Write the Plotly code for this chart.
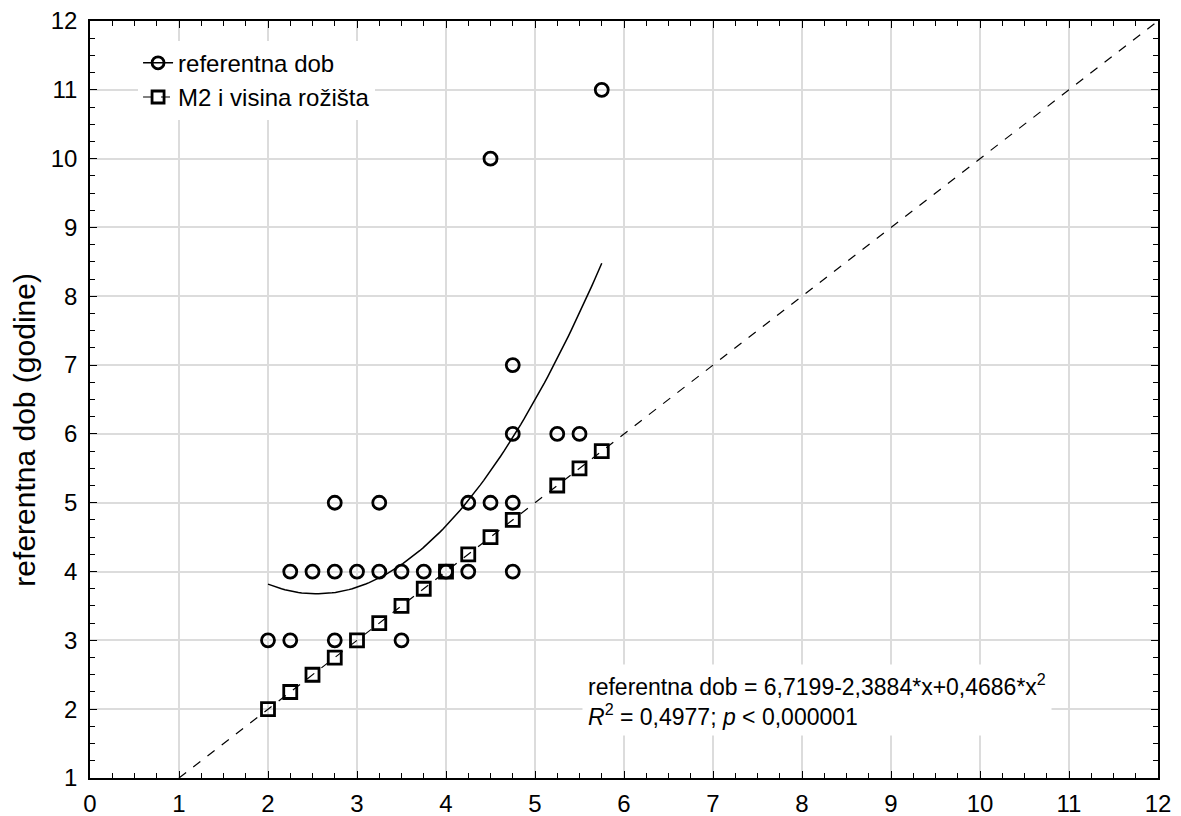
import numpy as np
import plotly.graph_objects as go

# Observed: M2 score (x) vs reference age (y)
circle_x = [2, 2.25, 2.75, 3.5,
            2.25, 2.5, 2.75, 3, 3.25, 3.5, 3.75, 4, 4.25, 4.75,
            2.75, 3.25, 4.25, 4.5, 4.75,
            4.75, 5.25, 5.5,
            4.75, 4.5, 5.75]
circle_y = [3, 3, 3, 3,
            4, 4, 4, 4, 4, 4, 4, 4, 4, 4,
            5, 5, 5, 5, 5,
            6, 6, 6,
            7, 10, 11]

# M2 i visina rožišta (estimated age equals score)
square_x = [2, 2.25, 2.5, 2.75, 3, 3.25, 3.5, 3.75, 4, 4.25, 4.5, 4.75, 5.25, 5.5, 5.75]
square_y = [2, 2.25, 2.5, 2.75, 3, 3.25, 3.5, 3.75, 4, 4.25, 4.5, 4.75, 5.25, 5.5, 5.75]

# Quadratic fit coefficients (from the chart's equation)
b0, b1, b2 = 6.7199, -2.3884, 0.4686
fit_range = [2, 5.75]
identity_range = [1, 12]

xticks = list(range(0, 13))
yticks = list(range(1, 13))

FONT = "Liberation Sans"

fit_x = np.linspace(fit_range[0], fit_range[1], 100)
fit_y = b0 + b1 * fit_x + b2 * fit_x ** 2

fig = go.Figure()

fig.add_trace(go.Scatter(x=identity_range, y=identity_range, mode="lines",
                         line=dict(color="black", width=1.2, dash="dash"),
                         showlegend=False, hoverinfo="skip"))
fig.add_trace(go.Scatter(x=fit_x, y=fit_y, mode="lines",
                         line=dict(color="black", width=1.5),
                         showlegend=False, hoverinfo="skip"))
fig.add_trace(go.Scatter(x=circle_x, y=circle_y, mode="markers",
                         marker=dict(symbol="circle-open", size=13, color="black",
                                     line=dict(width=2.8, color="black")),
                         showlegend=False))
fig.add_trace(go.Scatter(x=square_x, y=square_y, mode="markers",
                         marker=dict(symbol="square-open", size=13, color="black",
                                     line=dict(width=2.8, color="black")),
                         showlegend=False))

fig.add_trace(go.Scatter(x=[None], y=[None], mode="lines+markers", name="referentna dob",
                         line=dict(color="black", width=1.5),
                         marker=dict(symbol="circle-open", size=12, color="black",
                                     line=dict(width=2.8, color="black"))))
fig.add_trace(go.Scatter(x=[None], y=[None], mode="lines+markers", name="M2 i visina rožišta",
                         line=dict(color="black", width=1.2, dash="dash"),
                         marker=dict(symbol="square-open", size=12, color="black",
                                     line=dict(width=2.8, color="black"))))

fig.add_annotation(
    x=5.53, y=2.14, xref="x", yref="y", xanchor="left", yanchor="middle",
    align="left", showarrow=False, bgcolor="white",
    text="referentna dob = 6,7199-2,3884*x+0,4686*x<sup>2</sup><br>"
         "<i>R</i><sup>2</sup> = 0,4977; <i>p</i> < 0,000001",
    font=dict(family=FONT, size=23, color="black"),
    borderpad=5,
)

# y-axis title placed as rotated text
fig.add_annotation(
    x=-0.061, y=0.46, xref="paper", yref="paper", xanchor="center", yanchor="middle",
    showarrow=False, textangle=-90, text="referentna dob (godine)",
    font=dict(family=FONT, size=30, color="black"),
)

axis_common = dict(
    showline=True, linecolor="black", linewidth=1.5, mirror="ticks",
    ticks="inside", ticklen=7, tickwidth=1.2, tickcolor="black",
    showgrid=True, gridcolor="#dcdcdc", gridwidth=1.5, zeroline=False,
    tickfont=dict(family=FONT, size=24, color="black"),
    automargin=False, ticklabeloverflow="allow",
    minor=dict(ticks="inside", ticklen=5, tickcolor="black", tickwidth=1, dtick=0.25, showgrid=False),
)

fig.update_xaxes(range=[0, 12], tickvals=xticks, ticklabelstandoff=3, **axis_common)
fig.update_yaxes(range=[1, 12], tickvals=yticks, ticklabelstandoff=6, **axis_common)

fig.update_layout(
    width=1173, height=808,
    margin=dict(l=82, r=23, t=13, b=38),
    paper_bgcolor="white", plot_bgcolor="white",
    font=dict(family=FONT, size=22, color="black"),
    legend=dict(x=0.045, y=0.974, xanchor="left", yanchor="top",
                bgcolor="white", font=dict(family=FONT, size=24, color="black"),
                tracegroupgap=0, itemwidth=30),
)

fig.write_html("out.html")
